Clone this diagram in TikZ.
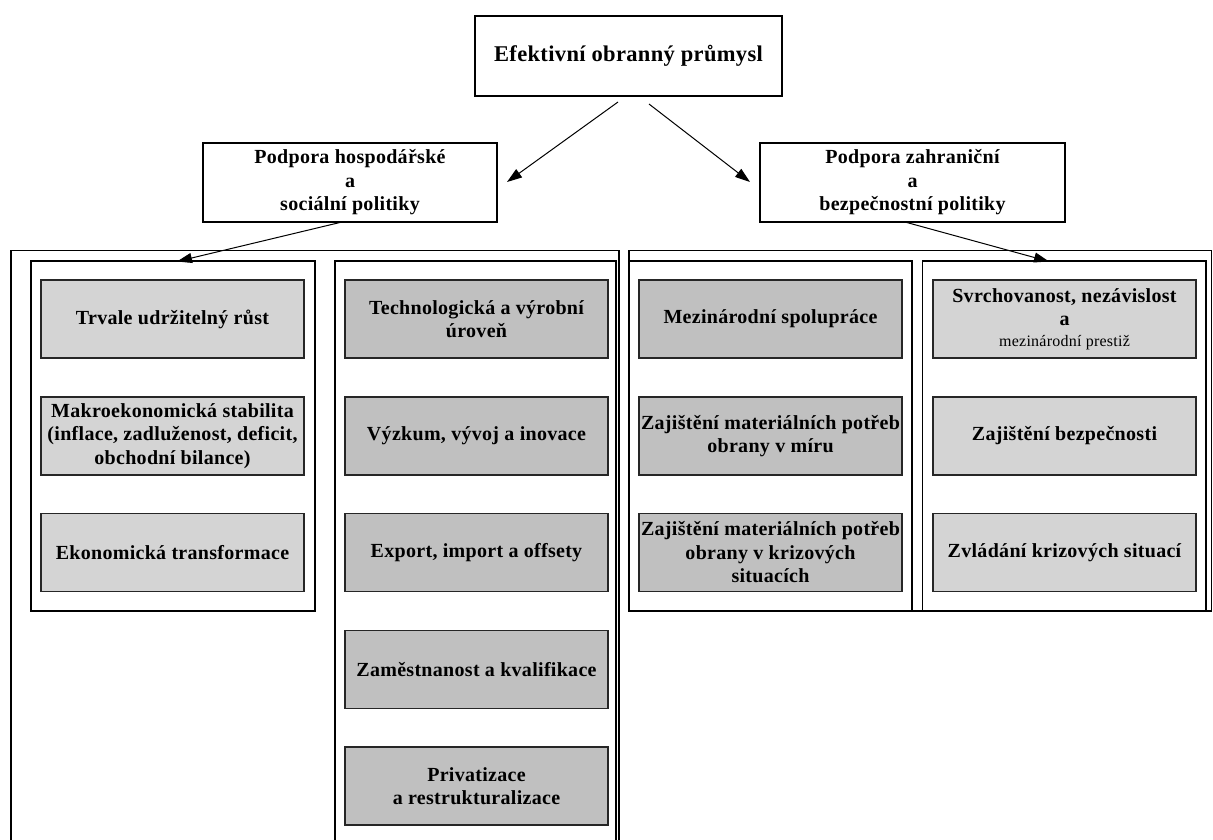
\documentclass[tikz,border=0pt]{standalone}
\usepackage{fontspec}
\setmainfont{Liberation Serif}[LetterSpace=1.5]
\usetikzlibrary{arrows.meta}
\definecolor{boxlight}{RGB}{212,212,212}
\definecolor{boxdark}{RGB}{192,192,192}
\begin{document}
\begin{tikzpicture}[x=1pt,y=-1pt,
  headbox/.style={draw=black,line width=2.4pt,fill=white,inner sep=0pt,align=center,font=\fontsize{20}{23.4}\selectfont\bfseries},
  itembox/.style={draw=black!85,line width=1.3pt,inner sep=0pt,align=center,minimum width=263pt,minimum height=78pt,font=\fontsize{20}{23.5}\selectfont\bfseries},
  itemlight/.style={itembox,fill=boxlight},
  itemdark/.style={itembox,fill=boxdark},
  panelline/.style={draw=black,line width=1.1pt},
  arrowlink/.style={line width=1pt,-{Triangle[length=15pt,width=10pt]}}]
\useasboundingbox (0,0) rectangle (1213,839);
\clip (0,0) rectangle (1213,839);
\fill[white] (0,0) rectangle (1213,839);

% panels
\draw[panelline] (11,850) -- (11,250.7) -- (619,250.7) -- (619,850);
\draw[panelline] (31,261) rectangle (315,611);
\draw[panelline] (335,850) -- (335,261) -- (616,261) -- (616,850);
\draw[panelline] (629,250.7) rectangle (1211.5,611);
\draw[panelline] (629,261) rectangle (912,611);
\draw[panelline] (922.7,261) rectangle (1206,611);

% header boxes
\node[headbox,minimum width=307pt,minimum height=80pt,font=\fontsize{22.5}{26}\selectfont\bfseries] (top) at (628.5,56) {Efektivní obranný průmysl};
\node[headbox,minimum width=294pt,minimum height=79pt] (econ) at (350,182.5) {Podpora hospodářské\\a\\sociální politiky};
\node[headbox,minimum width=305pt,minimum height=79pt] (secu) at (912.5,182.5) {Podpora zahraniční\\a\\bezpečnostní politiky};

% panel 1
\node[itemlight] (p1a) at (172.5,319) {Trvale udržitelný růst};
\node[itemlight] (p1b) at (172.5,436) {Makroekonomická stabilita\\(inflace, zadluženost, deficit,\\obchodní bilance)};
\node[itemlight] (p1c) at (172.5,552.5) {Ekonomická transformace};

% panel 2
\node[itemdark] (p2a) at (476.5,319) {Technologická a výrobní\\úroveň};
\node[itemdark] (p2b) at (476.5,436) {Výzkum, vývoj a inovace};
\node[itemdark] (p2c) at (476.5,552.5) {Export, import a offsety};
\node[itemdark] (p2d) at (476.5,669.5) {Zaměstnanost a kvalifikace};
\node[itemdark] (p2e) at (476.5,786) {Privatizace\\a restrukturalizace};

% panel 3
\node[itemdark] (p3a) at (770.5,319) {Mezinárodní spolupráce};
\node[itemdark] (p3b) at (770.5,436) {Zajištění materiálních potřeb\\obrany v míru};
\node[itemdark] (p3c) at (770.5,552.5) {Zajištění materiálních potřeb\\obrany v krizových\\situacích};

% panel 4
\node[itemlight] (p4a) at (1064.5,319) {Svrchovanost, nezávislost\\[-1pt]a\\[-2.5pt]{\mdseries\fontsize{16}{19}\selectfont mezinárodní prestiž}};
\node[itemlight] (p4b) at (1064.5,436) {Zajištění bezpečnosti};
\node[itemlight] (p4c) at (1064.5,552.5) {Zvládání krizových situací};

% arrow end points
\coordinate (a1s) at (618,102);
\coordinate (a1e) at (507,182);
\coordinate (a2s) at (649,104);
\coordinate (a2e) at (750,182);
\coordinate (a3s) at (342,222);
\coordinate (a3e) at (177,261.5);
\coordinate (a4s) at (905,222);
\coordinate (a4e) at (1049,261.5);

\draw[arrowlink] (a1s) -- (a1e);
\draw[arrowlink] (a2s) -- (a2e);
\draw[arrowlink] (a3s) -- (a3e);
\draw[arrowlink] (a4s) -- (a4e);
\end{tikzpicture}
\end{document}
